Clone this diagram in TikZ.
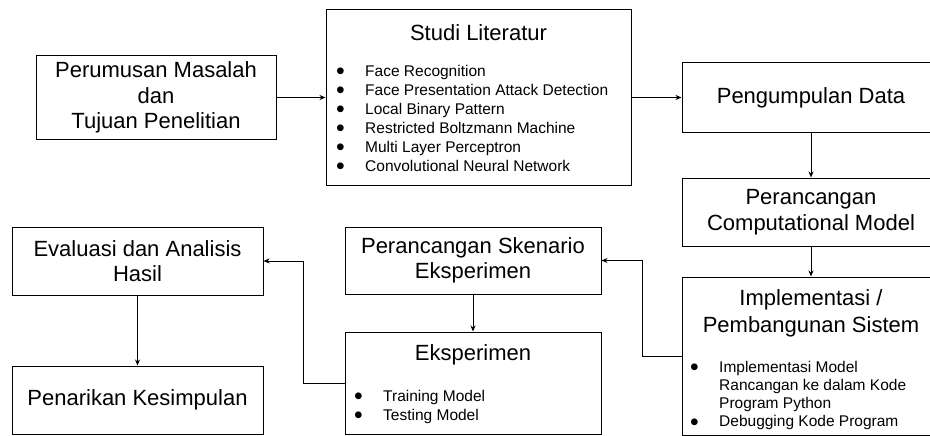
\documentclass[tikz,border=0pt]{standalone}
\usepackage{fontspec}
\setmainfont{Liberation Sans}
\usepackage{tikz}
\usetikzlibrary{positioning}
\usetikzlibrary{arrows.meta}

\newcommand{\judul}{\fontsize{22}{25.5}\selectfont}
\newcommand{\butir}{\fontsize{15.5}{19}\selectfont}
\newcommand{\itm}{\makebox[29pt][l]{\raisebox{-0.2em}{\scalebox{1.6}{\textbullet}}}}

\begin{document}
\begin{tikzpicture}[x=1pt,y=-1pt]
        \useasboundingbox (0,0) rectangle (930,436);
        \begin{scope}[every node/.style={draw=black,rectangle,line width=1pt,inner sep=0pt,align=center,font=\judul}]
            \node[minimum width=240, minimum height=83] (rumusan) at (156,97.5) {Perumusan Masalah\\dan\\Tujuan Penelitian};
            \node[minimum width=305, minimum height=175] (studi) at (478.5,97.5) {};
            \node[minimum width=258, minimum height=69] (data) at (811,97.5) {Pengumpulan Data};
            \node[minimum width=258, minimum height=68, font=\fontsize{22}{26.5}\selectfont] (model) at (811,212) {Perancangan\\Computational Model};
            \node[minimum width=258, minimum height=158] (impl) at (811,356) {};
            \node[minimum width=256, minimum height=67] (skenario) at (473,260.5) {Perancangan Skenario\\Eksperimen};
            \node[minimum width=256, minimum height=102] (eksperimen) at (473,383) {};
            \node[minimum width=251, minimum height=68] (evaluasi) at (137.5,261) {Evaluasi dan Analisis\\Hasil};
            \node[minimum width=251, minimum height=68] (kesimpulan) at (137.5,400) {Penarikan Kesimpulan};
        \end{scope}
        % judul di dalam kotak
        \begin{scope}[every node/.style={inner sep=0pt,align=center,font=\judul}]
            \node (tstudi) at (478.5,33) {Studi Literatur};
            \node[font=\fontsize{22}{27}\selectfont] (timpl) at (811,313.5) {Implementasi /\\Pembangunan Sistem};
            \node (teksperimen) at (473,355) {Eksperimen};
        \end{scope}
        % daftar butir
        \begin{scope}[every node/.style={inner sep=0pt,align=left,anchor=west,font=\butir}]
            \node (lstudi) at (336,119.5) {\itm Face Recognition\\\itm Face Presentation Attack Detection\\\itm Local Binary Pattern\\\itm Restricted Boltzmann Machine\\\itm Multi Layer Perceptron\\\itm Convolutional Neural Network};
            \node[font=\fontsize{15.5}{18.3}\selectfont] (limpl) at (690,395.5) {\itm Implementasi Model\\\hspace*{29pt}Rancangan ke dalam Kode\\\hspace*{29pt}Program Python\\\itm Debugging Kode Program};
            \node (leksperimen) at (354,407) {\itm Training Model\\\itm Testing Model};
        \end{scope}
        \begin{scope}[>={Stealth[length=6pt,width=5pt]}, line width=1pt]
             \draw [->] (rumusan) -- (studi);
             \draw [->] (studi) -- (data);
             \draw [->] (data) -- (model);
             \draw [->] (model) -- (impl);
             \draw [->] (impl.west) -| ([xshift=41pt]skenario.east) -- (skenario.east);
             \draw [->] (skenario) -- (eksperimen);
             \draw [->] (eksperimen.west) -| ([xshift=40pt]evaluasi.east) -- (evaluasi.east);
             \draw [->] (evaluasi) -- (kesimpulan);
        \end{scope}
\end{tikzpicture}
\end{document}
